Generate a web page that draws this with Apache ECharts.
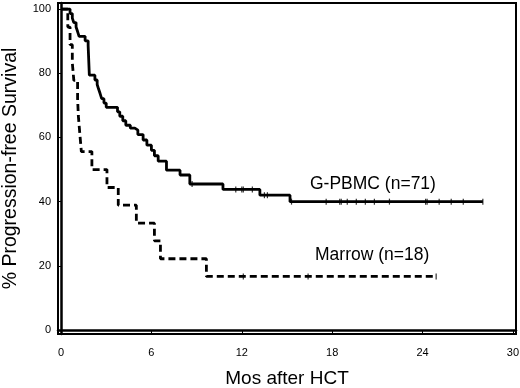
<!DOCTYPE html>
<html>
<head>
	<meta charset="UTF-8">
	<title></title>
	<style>
		body { margin: 0; background: #fff; }
		#chart { width: 520px; height: 388px; }
	</style>
	<script src="https://cdn.jsdelivr.net/npm/echarts@6/dist/echarts.min.js"></script>
</head>
<body>
	<div id="chart"></div>
	<script>
		// Kaplan-Meier steps: time (months) and survival (%) after each event
		var gpbmcTimes = [0, 0.6, 0.75, 0.85, 1.0, 1.1, 1.2, 1.6, 1.8, 1.88, 2.25, 2.4, 2.5, 2.6, 2.7, 2.85, 3.0,
			3.75, 3.9, 4.1, 4.3, 4.6, 4.9, 5.1, 5.45, 5.7, 6.0, 6.2, 6.45, 7.0, 7.9, 8.55, 10.75, 13.2, 15.2, 28.0];
		var gpbmcSurv = [100, 98.6, 97.2, 95.8, 94.4, 93.0, 91.5, 90.1, 88.7, 79.4, 77.9, 76.5, 75.0, 73.6, 72.1, 70.7, 69.4,
			68.0, 66.6, 65.2, 63.8, 62.9, 62.3, 60.9, 59.2, 57.6, 56.0, 54.3, 52.6, 49.8, 48.3, 45.5, 43.8, 42.0, 40.0, 40.0];
		var gpbmcCensor = [8.7, 11.6, 12.0, 12.1, 12.7, 13.5, 13.7, 15.3, 17.6, 18.5, 18.6, 19.0, 19.6, 20.2, 20.8,
			21.8, 24.2, 24.3, 25.1, 25.9, 26.7, 28.0];

		var marrowTimes = [0, 0.45, 0.6, 0.75, 0.85, 1.1, 1.15, 1.25, 1.35, 2.05, 3.05, 3.8, 5.0, 6.2, 6.6, 9.65, 24.9];
		var marrowSurv = [100, 94.4, 88.9, 83.3, 77.8, 72.2, 66.7, 61.1, 55.6, 50.0, 44.4, 38.9, 33.3, 27.8, 22.2, 16.7, 16.7];
		var marrowCensor = [12.1, 16.4, 24.9];

		var xTicks = [0, 6, 12, 18, 24, 30];
		var yTicks = [0, 20, 40, 60, 80, 100];

		function pairs(xs, ys) {
			return xs.map(function (x, i) { return [x, ys[i]]; });
		}
		function survAt(xs, ys, t) {
			var v = ys[0];
			for (var i = 0; i < xs.length; i++) {
				if (xs[i] <= t) v = ys[i];
			}
			return v;
		}
		function censorPts(cs, xs, ys) {
			return cs.map(function (t) { return [t, survAt(xs, ys, t)]; });
		}

		var font = 'Liberation Sans, Arial, Helvetica, sans-serif';
		var chart = echarts.init(document.getElementById('chart'));
		chart.setOption({
			animation: false,
			grid: {
				left: 58, right: 4, top: 3, bottom: 54,
				outerBoundsMode: 'none',
				containLabel: false,
				show: true,
				borderColor: '#000',
				borderWidth: 2
			},
			xAxis: {
				type: 'value',
				min: -0.2,
				max: 30.2,
				name: 'Mos after HCT',
				nameLocation: 'middle',
				nameGap: 35,
				nameTextStyle: { fontFamily: font, fontSize: 19, color: '#000' },
				axisLine: { lineStyle: { color: '#000', width: 2.5 } },
				axisTick: { show: true, length: 4, customValues: xTicks, lineStyle: { color: '#000' } },
				axisLabel: { customValues: xTicks, color: '#000', fontFamily: font, fontSize: 11, margin: 13 },
				splitLine: { show: false }
			},
			yAxis: {
				type: 'value',
				min: -1.25,
				max: 101.9,
				name: '% Progression-free Survival',
				nameLocation: 'middle',
				nameGap: 37,
				nameTextStyle: { fontFamily: font, fontSize: 19.5, color: '#000' },
				axisLine: { show: true, lineStyle: { color: '#000', width: 2.5 } },
				axisTick: { show: true, length: 3, customValues: yTicks, lineStyle: { color: '#000' } },
				axisLabel: { customValues: yTicks, color: '#000', fontFamily: font, fontSize: 11, margin: 7 },
				splitLine: { show: false }
			},
			series: [
				{
					name: 'G-PBMC',
					type: 'line',
					step: 'end',
					showSymbol: false,
					data: pairs(gpbmcTimes, gpbmcSurv),
					lineStyle: { color: '#000', width: 2.8 }
				},
				{
					name: 'Marrow',
					type: 'line',
					step: 'end',
					showSymbol: false,
					data: pairs(marrowTimes, marrowSurv),
					lineStyle: { color: '#000', width: 2.8, type: [7, 4] }
				},
				{
					type: 'scatter',
					symbol: 'rect',
					symbolSize: [1.2, 6],
					itemStyle: { color: '#000' },
					data: censorPts(gpbmcCensor, gpbmcTimes, gpbmcSurv)
				},
				{
					type: 'scatter',
					symbol: 'rect',
					symbolSize: [1.2, 6],
					itemStyle: { color: '#000' },
					data: censorPts(marrowCensor, marrowTimes, marrowSurv)
				}
			],
			graphic: [
				{
					type: 'text', left: 310, top: 175,
					style: { text: 'G-PBMC (n=71)', fontFamily: font, fontSize: 17.5, fill: '#000' }
				},
				{
					type: 'text', left: 315, top: 246,
					style: { text: 'Marrow (n=18)', fontFamily: font, fontSize: 17.5, fill: '#000' }
				}
			]
		});
	</script>
</body>
</html>
